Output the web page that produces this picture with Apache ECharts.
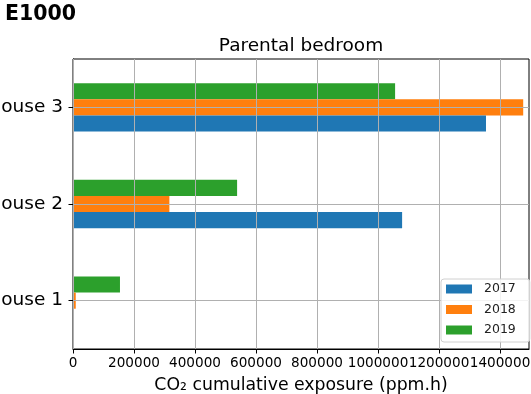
<!DOCTYPE html>
<html>
<head>
<meta charset="utf-8">
<script src="https://cdn.jsdelivr.net/npm/echarts@6/dist/echarts.min.js"></script>
<style>
  html, body { margin: 0; padding: 0; background: #fff; }
  #chart { width: 531px; height: 394px; }
</style>
</head>
<body>
<div id="chart"></div>
<script>
// Cumulative CO2 exposure in the parental bedroom, per house and year
const houses = ['House 1', 'House 2', 'House 3'];
const years = ['2017', '2018', '2019'];
const exposure2017 = [0, 1079000, 1354000];
const exposure2018 = [9000, 316000, 1476000];
const exposure2019 = [154000, 538000, 1056000];
const xTicks = [0, 200000, 400000, 600000, 800000, 1000000, 1200000, 1400000];
const colors = ['#1f77b4', '#ff7f0e', '#2ca02c'];

const FONT = 'DejaVu Sans';
const seriesValues = [exposure2017, exposure2018, exposure2019];

// within a category band the first series is placed at the top,
// so the years are added in reverse to stack 2017 at the bottom
const series = years.map((y, i) => ({
  name: y,
  type: 'bar',
  data: seriesValues[i],
  barWidth: 16.1,
  barGap: '0%',
  itemStyle: { color: colors[i] },
  z: 2
})).reverse();

// horizontal grid lines through each category centre, drawn above the bars;
// attached to the middle series, whose bars sit on the category centre
series[1].markLine = {
  silent: true,
  symbol: 'none',
  label: { show: false },
  lineStyle: { color: '#b0b0b0', width: 1, type: 'solid' },
  data: houses.map(h => ({ yAxis: h })),
  z: 3
};

const chart = echarts.init(document.getElementById('chart'), null, { renderer: 'canvas' });
chart.setOption({
  animation: false,
  backgroundColor: '#fff',
  textStyle: { fontFamily: FONT },
  title: [
    {
      text: 'E1000',
      left: 5, top: 4, padding: 0,
      textStyle: { fontFamily: FONT, fontWeight: 'bold', fontSize: 20.5, color: '#000' }
    },
    {
      text: 'Parental bedroom',
      left: 301, top: 36.5, textAlign: 'center', padding: 0,
      textStyle: { fontFamily: FONT, fontWeight: 'normal', fontSize: 18.5, color: '#000' }
    }
  ],
  legend: {
    orient: 'vertical',
    left: 441, top: 279,
    data: years,
    itemWidth: 26, itemHeight: 9,
    itemGap: 6.5,
    padding: [3, 14, 5, 5],
    backgroundColor: 'rgba(255,255,255,0.85)',
    borderColor: '#d0d0d0', borderWidth: 1, borderRadius: 3,
    icon: 'rect',
    z: 10,
    textStyle: { fontFamily: FONT, fontSize: 12.5, color: '#222', lineHeight: 14, padding: [0, 0, 0, 7] }
  },
  grid: {
    left: 73, right: 2, top: 59, bottom: 45,
    containLabel: false,
    outerBoundsMode: 'none',
    show: true, borderColor: '#000', borderWidth: 1, backgroundColor: 'transparent'
  },
  xAxis: {
    type: 'value',
    min: 0, max: 1495000, interval: 200000,
    z: 3,
    name: 'CO₂ cumulative exposure (ppm.h)',
    nameLocation: 'middle',
    nameGap: 28,
    nameTextStyle: { fontFamily: FONT, fontSize: 17.3, color: '#000' },
    axisLine: { show: true, lineStyle: { color: '#000', width: 1 } },
    axisTick: { show: true, length: 4.5, lineStyle: { color: '#000' }, customValues: xTicks },
    axisLabel: {
      fontFamily: FONT, fontSize: 13.6, color: '#000', margin: 7,
      customValues: xTicks,
      hideOverlap: false,
      formatter: v => String(v)
    },
    splitLine: { show: true, lineStyle: { color: '#b0b0b0', width: 1 } }
  },
  yAxis: {
    type: 'category',
    data: houses,
    axisLine: { show: true, lineStyle: { color: '#000', width: 1 } },
    axisTick: { show: true, alignWithLabel: true, length: 4.5, lineStyle: { color: '#000' } },
    axisLabel: { fontFamily: FONT, fontSize: 18.5, color: '#000', margin: 10 },
    splitLine: { show: false }
  },
  series: series
});
</script>
</body>
</html>
